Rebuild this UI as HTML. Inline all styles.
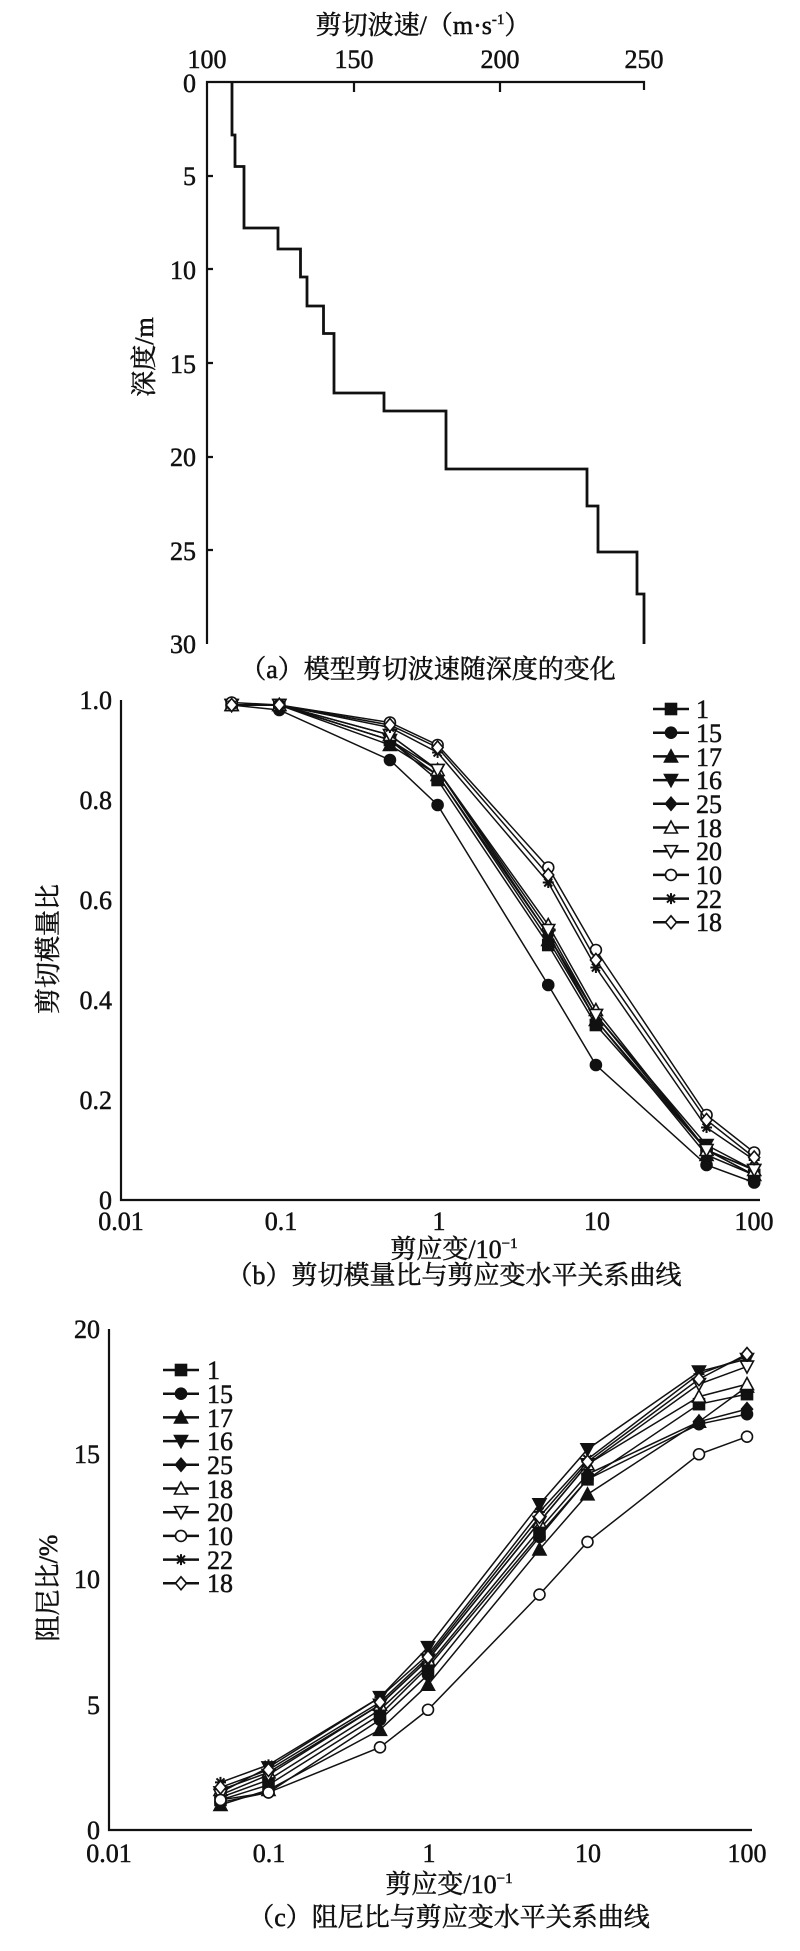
<!DOCTYPE html>
<html><head><meta charset="utf-8">
<style>
html,body{margin:0;padding:0;background:#fff;}
svg{display:block;}
text{font-family:"Liberation Serif","Noto Serif CJK SC",serif;fill:#111;stroke:#111;stroke-width:0.5;}
.cj{font-family:"Liberation Serif","Noto Serif CJK SC","Noto Sans CJK SC",serif;}
</style></head>
<body>
<svg id="s" width="800" height="1951" viewBox="0 0 800 1951" xmlns="http://www.w3.org/2000/svg">
<g stroke="#111" fill="none" stroke-width="2.2">
<path d="M207 644 V82 H644 V90"/>
<path d="M354 82 v10 M500 82 v10 M207 176 h6 M207 269 h6 M207 363 h6 M207 457 h6 M207 550 h6"/>
<path stroke-width="2.8" d="M232 82 V135 H235 V166.5 H244 V228 H278 V249 H300.5 V277 H307 V306 H323.5 V333.5 H334 V393 H384 V411 H446 V469 H587 V506 H598 V552 H637 V594 H644 V644"/>
<path d="M121 700 V1200 H760"/>
<path d="M109 1329 V1830 H752"/>
</g>
<g font-size="26">
<text x="423" y="34" text-anchor="middle" class="cj">剪切波速/（m·s<tspan font-size="15" dy="-10">-1</tspan><tspan dy="10">）</tspan></text>
<text x="207" y="68" text-anchor="middle">100</text>
<text x="354" y="68" text-anchor="middle">150</text>
<text x="500" y="68" text-anchor="middle">200</text>
<text x="644" y="68" text-anchor="middle">250</text>
<g text-anchor="end">
<text x="196" y="92">0</text>
<text x="196" y="185">5</text>
<text x="196" y="279">10</text>
<text x="196" y="373">15</text>
<text x="196" y="466">20</text>
<text x="196" y="560">25</text>
<text x="196" y="653">30</text>
</g>
<text transform="translate(153,357) rotate(-90)" text-anchor="middle" class="cj">深度/m</text>
<text x="428" y="678" text-anchor="middle" class="cj">（a）模型剪切波速随深度的变化</text>
</g>
<g font-size="26">
<g text-anchor="end">
<text x="112" y="709">1.0</text>
<text x="112" y="809">0.8</text>
<text x="112" y="909">0.6</text>
<text x="112" y="1009">0.4</text>
<text x="112" y="1109">0.2</text>
<text x="112" y="1209">0</text>
</g>
<g text-anchor="middle">
<text x="121" y="1230">0.01</text>
<text x="281" y="1230">0.1</text>
<text x="439" y="1230">1</text>
<text x="597" y="1230">10</text>
<text x="754" y="1230">100</text>
<text x="454" y="1258" class="cj">剪应变/10<tspan font-size="15" dy="-10">−1</tspan></text>
<text x="454" y="1284" class="cj">（b）剪切模量比与剪应变水平关系曲线</text>
</g>
<text transform="translate(57,949) rotate(-90)" text-anchor="middle" class="cj">剪切模量比</text>
</g>
<g font-size="26">
<g text-anchor="end">
<text x="100" y="1338">20</text>
<text x="100" y="1463">15</text>
<text x="100" y="1588">10</text>
<text x="100" y="1714">5</text>
<text x="100" y="1839">0</text>
</g>
<g text-anchor="middle">
<text x="109" y="1862">0.01</text>
<text x="269" y="1862">0.1</text>
<text x="429" y="1862">1</text>
<text x="588" y="1862">10</text>
<text x="747" y="1862">100</text>
<text x="449" y="1893" class="cj">剪应变/10<tspan font-size="15" dy="-10">−1</tspan></text>
<text x="449" y="1926" class="cj">（c）阻尼比与剪应变水平关系曲线</text>
</g>
<text transform="translate(57,1588) rotate(-90)" text-anchor="middle" class="cj">阻尼比/%</text>
</g>
<g font-size="26">
<text x="696" y="718">1</text><text x="696" y="742">15</text><text x="696" y="766">17</text><text x="696" y="789">16</text><text x="696" y="813">25</text>
<text x="696" y="837">18</text><text x="696" y="860">20</text><text x="696" y="884">10</text><text x="696" y="908">22</text><text x="696" y="931">18</text>
<text x="207" y="1379">1</text><text x="207" y="1403">15</text><text x="207" y="1427">17</text><text x="207" y="1450">16</text><text x="207" y="1474">25</text>
<text x="207" y="1498">18</text><text x="207" y="1521">20</text><text x="207" y="1545">10</text><text x="207" y="1569">22</text><text x="207" y="1592">18</text>
</g>
<g id="g"></g>
</svg>
<script>
var NS="http://www.w3.org/2000/svg",G=document.getElementById("g");
function el(t,a){var e=document.createElementNS(NS,t);for(var k in a)e.setAttribute(k,a[k]);G.appendChild(e);return e;}
var types=["sq","ci","tu","td","di","tuo","tdo","cio","st","dio"];
function mk(t,x,y){var r=5.5,f="#111";
 if(t=="dio"||t=="cio"||t=="tuo"||t=="tdo")f="#fff";
 var st={stroke:"#111","stroke-width":1.6,fill:f};
 if(t=="sq")el("rect",Object.assign({x:x-r,y:y-r,width:2*r,height:2*r},st));
 else if(t=="ci"||t=="cio")el("circle",Object.assign({cx:x,cy:y,r:r},st));
 else if(t=="tu"||t=="tuo")el("polygon",Object.assign({points:(x)+","+(y-r-1)+" "+(x-r-1)+","+(y+r)+" "+(x+r+1)+","+(y+r)},st));
 else if(t=="td"||t=="tdo")el("polygon",Object.assign({points:(x)+","+(y+r+1)+" "+(x-r-1)+","+(y-r)+" "+(x+r+1)+","+(y-r)},st));
 else if(t=="di"||t=="dio")el("polygon",Object.assign({points:x+","+(y-r-1)+" "+(x+r)+","+y+" "+x+","+(y+r+1)+" "+(x-r)+","+y},st));
 else if(t=="st"){el("path",{d:"M"+(x-r)+" "+y+"h"+2*r+"M"+x+" "+(y-r)+"v"+2*r+"M"+(x-4)+" "+(y-4)+"l8 8M"+(x+4)+" "+(y-4)+"l-8 8",stroke:"#111","stroke-width":2,fill:"none"});}
}
var xs=[0.05,0.1,0.5,1,5,10,50,100];
var B=[[.99,.99,.92,.84,.51,.35,.10,.05],[.99,.98,.88,.79,.43,.27,.07,.035],[.99,.99,.91,.85,.52,.36,.09,.05],[.99,.99,.92,.86,.53,.37,.11,.06],[.99,.99,.92,.85,.53,.36,.10,.05],[.99,.99,.93,.86,.55,.38,.10,.06],[.99,.99,.93,.86,.54,.37,.10,.06],[.995,.99,.955,.91,.665,.50,.17,.095],[.99,.99,.945,.895,.635,.465,.145,.08],[.99,.99,.95,.905,.65,.48,.16,.085]];
var C=[[1.2,1.8,4.6,6.5,11.8,14.0,17.0,17.4],[1.1,1.5,4.4,6.2,11.7,14.0,16.2,16.6],[1.0,1.6,4.0,5.8,11.2,13.4,16.3,17.7],[1.5,2.5,5.3,7.3,13.0,15.2,18.3,18.8],[1.3,2.0,4.8,6.6,12.0,14.2,16.3,16.8],[1.6,2.3,5.0,6.8,12.3,14.6,17.3,17.8],[1.4,2.2,5.0,6.8,12.3,14.6,17.8,18.5],[1.2,1.5,3.3,4.8,9.4,11.5,15.0,15.7],[1.9,2.6,5.3,7.0,12.7,14.8,18.2,18.9],[1.7,2.4,5.1,6.9,12.5,14.7,18.0,19.0]];
function plot(D,x0,dec,y0,sc,lx,ly){
 D.forEach(function(s,i){var p=s.map(function(v,j){return [x0+dec*(Math.log10(xs[j])+2),y0-v*sc];});
  el("polyline",{points:p.map(function(q){return q.join(",")}).join(" "),fill:"none",stroke:"#111","stroke-width":1.5});
  p.forEach(function(q){mk(types[i],q[0],q[1]);});
  var yy=ly+i*23.7;el("line",{x1:lx,y1:yy,x2:lx+36,y2:yy,stroke:"#111","stroke-width":2.5});mk(types[i],lx+18,yy);
 });
}
plot(B,121,158.3,1200,500,653,709);
plot(C,109,159.5,1830,25.05,163,1370);
</script>
</body></html>
